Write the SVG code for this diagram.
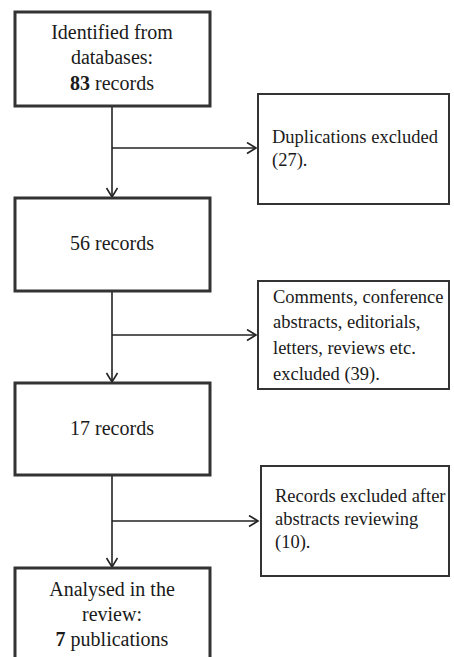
<svg xmlns="http://www.w3.org/2000/svg" width="454" height="657" viewBox="0 0 454 657">
<style>
.main{fill:#fff;stroke:#333;stroke-width:3}
.side{fill:#fff;stroke:#333;stroke-width:2}
.c{fill:none;stroke:#222;stroke-width:1.6}
.t{font-family:"Liberation Serif","Times New Roman",serif;font-size:20px;fill:#1a1a1a;text-anchor:middle}
.s{font-family:"Liberation Serif","Times New Roman",serif;font-size:18.5px;fill:#1a1a1a}
</style>
<defs>
<marker id="ah" markerUnits="userSpaceOnUse" markerWidth="14" markerHeight="14" refX="10" refY="6" orient="auto">
<path d="M1,0.5 L10,6 L1,11.5" fill="none" stroke="#222" stroke-width="1.6"/>
</marker>
</defs>
<rect width="454" height="657" fill="#fff"/>
<g id="connectors">
<line class="c" x1="112" y1="106" x2="112" y2="197" marker-end="url(#ah)"/>
<line class="c" x1="112" y1="148" x2="256" y2="148" marker-end="url(#ah)"/>
<line class="c" x1="112" y1="291" x2="112" y2="382" marker-end="url(#ah)"/>
<line class="c" x1="112" y1="335" x2="256" y2="335" marker-end="url(#ah)"/>
<line class="c" x1="112" y1="475" x2="112" y2="567" marker-end="url(#ah)"/>
<line class="c" x1="112" y1="521" x2="258" y2="521" marker-end="url(#ah)"/>
</g>
<g id="n1">
<rect class="main" x="15" y="12" width="195" height="94"/>
<text class="t" x="112" y="39">Identified from</text>
<text class="t" x="112" y="64">databases:</text>
<text class="t" x="112" y="90"><tspan font-weight="bold">83</tspan> records</text>
</g>
<g id="n2">
<rect class="side" x="258" y="94" width="191" height="110"/>
<text class="s" x="272" y="143">Duplications excluded</text>
<text class="s" x="272" y="166">(27).</text>
</g>
<g id="n3">
<rect class="main" x="15" y="198" width="195" height="93"/>
<text class="t" x="112" y="250">56 records</text>
</g>
<g id="n4">
<rect class="side" x="258" y="281" width="191" height="108"/>
<text class="s" x="273" y="303">Comments, conference</text>
<text class="s" x="273" y="328">abstracts, editorials,</text>
<text class="s" x="273" y="354">letters, reviews etc.</text>
<text class="s" x="273" y="380">excluded (39).</text>
</g>
<g id="n5">
<rect class="main" x="15" y="383" width="195" height="92"/>
<text class="t" x="112" y="435">17 records</text>
</g>
<g id="n6">
<rect class="side" x="261" y="466" width="188" height="110"/>
<text class="s" x="275" y="502">Records excluded after</text>
<text class="s" x="275" y="525">abstracts reviewing</text>
<text class="s" x="275" y="548">(10).</text>
</g>
<g id="n7">
<rect class="main" x="15" y="568" width="195" height="100"/>
<text class="t" x="112" y="596">Analysed in the</text>
<text class="t" x="112" y="621">review:</text>
<text class="t" x="112" y="646"><tspan font-weight="bold">7</tspan> publications</text>
</g>
</svg>
